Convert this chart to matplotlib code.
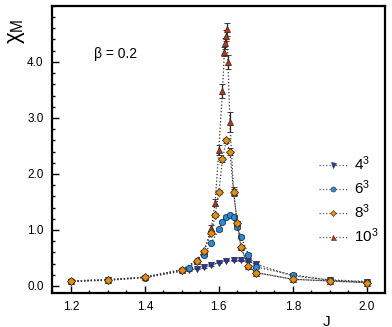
import numpy as np
import matplotlib
matplotlib.use('Agg')
import matplotlib.pyplot as plt
from matplotlib.ticker import MultipleLocator, FixedLocator
from matplotlib.lines import Line2D

plt.rcParams['font.family'] = ['Liberation Sans', 'DejaVu Sans']
plt.rcParams['mathtext.fontset'] = 'custom'
plt.rcParams['mathtext.rm'] = 'Liberation Sans'
plt.rcParams['mathtext.it'] = 'Liberation Sans'

# L = 4
J_4 = [1.2, 1.3, 1.4, 1.5, 1.52, 1.54, 1.56, 1.58, 1.60, 1.62, 1.64, 1.66, 1.68, 1.70, 1.8, 1.9, 2.0]
chi_4 = [0.08, 0.10, 0.15, 0.26, 0.28, 0.31, 0.34, 0.375, 0.415, 0.45, 0.46, 0.46, 0.44, 0.39, 0.18, 0.11, 0.08]
err_4 = [0.01] * len(J_4)

# L = 6
J_6 = [1.2, 1.3, 1.4, 1.5, 1.52, 1.54, 1.56, 1.58, 1.60, 1.61, 1.62, 1.63, 1.64, 1.65, 1.66, 1.68, 1.70, 1.8, 1.9, 2.0]
chi_6 = [0.09, 0.11, 0.15, 0.28, 0.33, 0.45, 0.56, 0.77, 1.01, 1.15, 1.24, 1.27, 1.24, 1.06, 0.88, 0.56, 0.34, 0.20, 0.10, 0.07]
err_6 = [0.01, 0.01, 0.01, 0.01, 0.01, 0.01, 0.02, 0.02, 0.02, 0.02, 0.02, 0.02, 0.03, 0.04, 0.03, 0.02, 0.02, 0.01, 0.01, 0.01]

# L = 8
J_8 = [1.2, 1.3, 1.4, 1.5, 1.54, 1.56, 1.58, 1.59, 1.60, 1.61, 1.62, 1.63, 1.64, 1.65, 1.66, 1.68, 1.70, 1.8, 1.9, 2.0]
chi_8 = [0.09, 0.11, 0.16, 0.29, 0.45, 0.63, 0.95, 1.27, 1.68, 2.26, 2.60, 2.40, 1.68, 1.12, 0.69, 0.36, 0.24, 0.12, 0.09, 0.06]
err_8 = [0.01, 0.01, 0.01, 0.01, 0.02, 0.02, 0.03, 0.03, 0.04, 0.05, 0.05, 0.06, 0.08, 0.04, 0.03, 0.02, 0.02, 0.01, 0.01, 0.01]

# L = 10
J_10 = [1.2, 1.3, 1.4, 1.5, 1.54, 1.56, 1.58, 1.59, 1.60, 1.61, 1.615, 1.6175, 1.62, 1.6225, 1.625, 1.63,
        1.64, 1.65, 1.66, 1.68, 1.70, 1.8, 1.9, 2.0]
chi_10 = [0.09, 0.11, 0.16, 0.29, 0.45, 0.63, 1.03, 1.49, 2.42, 3.48, 4.18, 4.33, 4.47, 4.58, 4.00, 2.93,
          1.68, 1.12, 0.69, 0.36, 0.24, 0.12, 0.09, 0.06]
err_10 = [0.01, 0.01, 0.01, 0.01, 0.02, 0.02, 0.05, 0.06, 0.09, 0.13, 0.08, 0.10, 0.10, 0.12, 0.12, 0.18,
          0.05, 0.04, 0.03, 0.02, 0.02, 0.01, 0.01, 0.01]

labels = ['$4^3$', '$6^3$', '$8^3$', '$10^3$']
y_ticks = [0.0, 1.0, 2.0, 3.0, 4.0]

fig = plt.figure(figsize=(3.92, 3.27), dpi=100)
ax = fig.add_axes([0.1327, 0.104, 0.849, 0.878])

series = [
    (J_4, chi_4, err_4, 'v', '#1a35d0', 4.5, labels[0], 2),
    (J_6, chi_6, err_6, 'o', '#1c8fe6', 4.5, labels[1], 3),
    (J_10, chi_10, err_10, '^', '#e02a00', 4.5, labels[3], 4),
    (J_8, chi_8, err_8, 'D', '#f08c00', 3.8, labels[2], 5),
]
handles = {}
for J, chi, err, mk, col, ms, lab, z in series:
    ax.errorbar(J, chi, yerr=err, fmt=mk, ls=':', color='#333333', lw=0.9,
                mfc=col, mec='#333333', mew=0.6, ms=ms, ecolor='#222222',
                elinewidth=0.9, capsize=2, capthick=0.9, zorder=z)
    handles[lab] = Line2D([], [], ls=':', color='#555555', lw=0.9, marker=mk,
                          mfc=col, mec='#444444', mew=0.5, ms=ms * 0.8)

ax.set_xlim(1.149, 2.049)
ax.set_ylim(-0.125, 5.0)
ax.xaxis.set_major_locator(MultipleLocator(0.2))
ax.xaxis.set_minor_locator(MultipleLocator(0.05))
ax.yaxis.set_major_locator(FixedLocator(y_ticks))
ax.yaxis.set_minor_locator(MultipleLocator(0.2))
ax.xaxis.set_major_formatter(plt.FormatStrFormatter('%.1f'))
ax.yaxis.set_major_formatter(plt.FormatStrFormatter('%.1f'))
ax.tick_params(which='both', direction='in', top=False, right=False, labelsize=8.5, width=1)
ax.tick_params(which='major', length=5, pad=6)
ax.tick_params(which='minor', length=2.5)
for s in ax.spines.values():
    s.set_linewidth(1.6)

ax.set_xlabel('J', fontsize=11)
ax.xaxis.set_label_coords(0.825, -0.075)
ax.set_ylabel(r'$\chi_{\rm M}$', fontsize=16)
ax.yaxis.set_label_coords(-0.075, 0.91)
ax.text(0.125, 0.82, 'β = 0.2', transform=ax.transAxes, fontsize=10)

leg = ax.legend([handles[k] for k in labels], labels, loc='upper left', bbox_to_anchor=(0.76, 0.53),
                frameon=False, fontsize=11, handlelength=1.9, labelspacing=0.35,
                handletextpad=0.4, numpoints=1)

fig.savefig('out.png', dpi=100)
